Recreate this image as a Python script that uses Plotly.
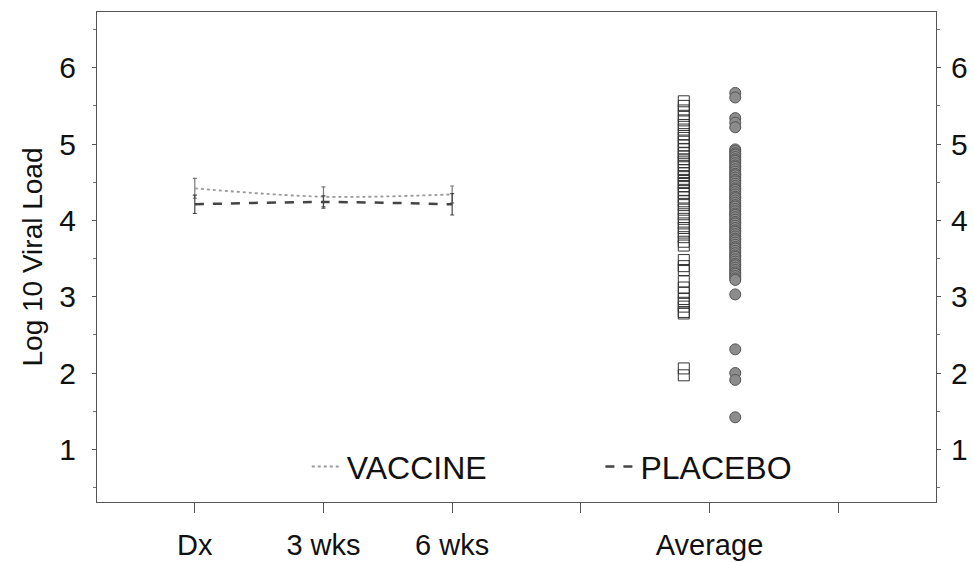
import plotly.graph_objects as go

# ---- data ----
time_labels = ["Dx", "3 wks", "6 wks"]
time_x = [1, 2, 3]
vaccine_mean = [4.42, 4.31, 4.34]
vaccine_err = [0.13, 0.13, 0.11]
placebo_mean = [4.21, 4.24, 4.21]
placebo_err = [0.12, 0.08, 0.14]

x_tickvals = [1, 2, 3, 4, 5, 6]
x_ticktext = ["Dx", "3 wks", "6 wks", "", "Average", ""]

vaccine_avg_x = 4.8
placebo_avg_x = 5.2
vaccine_avg = [5.56, 5.50, 5.44, 5.37, 5.31, 5.25, 5.19, 5.13, 5.08, 5.03,
               4.98, 4.93, 4.88, 4.84, 4.80, 4.76, 4.71, 4.66, 4.62, 4.58,
               4.53, 4.49, 4.45, 4.40, 4.36, 4.30, 4.25, 4.20, 4.14, 4.08,
               4.02, 3.96, 3.90, 3.84, 3.78, 3.72, 3.67, 3.48, 3.40, 3.35,
               3.20, 3.12, 3.05, 2.97, 2.92, 2.87, 2.80, 2.78, 2.06, 1.97]
placebo_avg = [5.67, 5.61, 5.34, 5.28, 5.22,
               4.93, 4.91, 4.88, 4.86, 4.83, 4.80, 4.78, 4.75, 4.72, 4.70,
               4.67, 4.64, 4.61, 4.59, 4.56, 4.53, 4.51, 4.48, 4.45, 4.42,
               4.40, 4.37, 4.34, 4.31, 4.29, 4.26, 4.23, 4.20, 4.18, 4.15,
               4.12, 4.09, 4.07, 4.04, 4.01, 3.98, 3.96, 3.93, 3.90, 3.87,
               3.85, 3.82, 3.79, 3.76, 3.74, 3.71, 3.68, 3.65, 3.63, 3.60,
               3.57, 3.54, 3.52, 3.49, 3.46, 3.43, 3.41, 3.38, 3.35, 3.32,
               3.30, 3.27, 3.24, 3.22, 3.03, 2.31, 2.00, 1.91, 1.42]

y_range = [0.31, 6.73]
x_range = [0.24, 6.76]
FONT = "Liberation Sans, Arial, sans-serif"

fig = go.Figure()

fig.add_trace(go.Scatter(
    x=time_x, y=vaccine_mean, name="VACCINE", mode="lines", legend="legend",
    line=dict(color="#9a9a9a", width=1.8, dash="dot", shape="spline"),
    error_y=dict(type="data", array=vaccine_err, color="#777777", thickness=1.2, width=2),
))
fig.add_trace(go.Scatter(
    x=time_x, y=placebo_mean, name="PLACEBO", mode="lines", legend="legend2",
    line=dict(color="#444444", width=2.5, dash="dash", shape="spline"),
    error_y=dict(type="data", array=placebo_err, color="#444444", thickness=1.2, width=2),
))
fig.add_trace(go.Scatter(
    x=[vaccine_avg_x] * len(vaccine_avg), y=vaccine_avg, mode="markers",
    marker=dict(symbol="square-open", size=11, color="#333333", line=dict(width=1)),
    showlegend=False,
))
fig.add_trace(go.Scatter(
    x=[placebo_avg_x] * len(placebo_avg), y=placebo_avg, mode="markers",
    marker=dict(symbol="circle", size=11, color="#8c8c8c", line=dict(color="#555555", width=1)),
    showlegend=False,
))
# invisible trace to carry right axis
fig.add_trace(go.Scatter(x=[None], y=[None], yaxis="y2", showlegend=False, hoverinfo="skip"))

legend_style = dict(font=dict(size=32, family=FONT), bgcolor="rgba(0,0,0,0)",
                    itemwidth=30, yanchor="middle", xanchor="left", y=0.072)

fig.update_layout(
    width=974, height=562,
    margin=dict(l=97, r=38, t=12, b=60),
    paper_bgcolor="white", plot_bgcolor="white",
    font=dict(family=FONT, color="#111111"),
    showlegend=True,
    legend=dict(x=0.25, **legend_style),
    legend2=dict(x=0.6, **legend_style),
    xaxis=dict(
        range=x_range, tickvals=x_tickvals, ticktext=x_ticktext,
        showgrid=False, zeroline=False, automargin=False,
        showline=True, linecolor="#555555", linewidth=1, mirror=True,
        ticks="outside", ticklen=10, tickcolor="#555555",
        tickfont=dict(size=29, family=FONT), ticklabelstandoff=7,
    ),
    yaxis=dict(
        range=y_range, tickvals=[1, 2, 3, 4, 5, 6],
        showgrid=False, zeroline=False, automargin=False,
        showline=True, linecolor="#555555", linewidth=1, mirror=True,
        ticks="outside", ticklen=4, tickcolor="#555555",
        minor=dict(dtick=0.5, ticks="outside", ticklen=3, tickcolor="#777777"),
        tickfont=dict(size=30, family=FONT), ticklabelstandoff=10,
        title=dict(text="Log 10 Viral Load", font=dict(size=28, family=FONT), standoff=8),
    ),
    yaxis2=dict(
        range=y_range, tickvals=[1, 2, 3, 4, 5, 6], overlaying="y", side="right",
        showgrid=False, zeroline=False, showline=False, automargin=False,
        ticks="outside", ticklen=4, tickcolor="#555555",
        minor=dict(dtick=0.5, ticks="outside", ticklen=3, tickcolor="#777777"),
        tickfont=dict(size=30, family=FONT), ticklabelstandoff=4,
    ),
)

fig.write_html("out.html")
